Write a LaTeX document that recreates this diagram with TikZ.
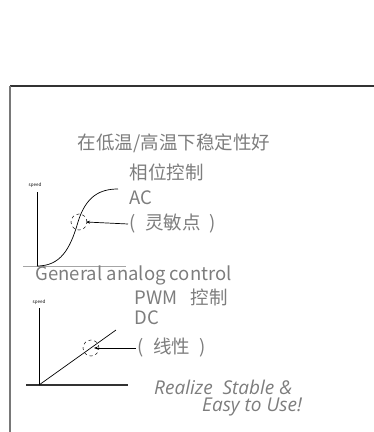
\documentclass[tikz,border=0pt]{standalone}
\usepackage{fontspec}
\setmainfont{Noto Sans CJK SC}
\newfontfamily\slantfont{Open Sans}
\usetikzlibrary{arrows.meta}
\definecolor{textgray}{RGB}{125,125,125}
\definecolor{framegray}{RGB}{120,120,120}
\definecolor{framedark}{RGB}{50,50,50}
\definecolor{axisgray}{RGB}{165,165,165}
\tikzset{
  caption/.style={
    text=textgray,
    font=\fontsize{18.5}{20}\selectfont,
    inner sep=1.5pt,
    anchor=west
  },
  slogan/.style={
    text=textgray,
    font=\slantfont\itshape\fontsize{19}{21}\selectfont,
    inner sep=0pt,
    anchor=west
  },
  axis-label/.style={font=\fontsize{4.5}{5}\selectfont, inner sep=0pt},
  axis/.style={line width=0.8pt, draw=black},
  curve/.style={line width=0.7pt, draw=black},
  spot/.style={circle, dashed, draw=black, line width=0.5pt,
    minimum size=16pt, inner sep=0pt},
  pointer/.style={{Stealth[length=4pt,width=3pt]}-, line width=0.7pt}
}
\newcommand{\gap}{\hspace{0.5em}}

\begin{document}
\begin{tikzpicture}[x=1pt,y=-1pt]
  \useasboundingbox (0,0) rectangle (374,432);
  % --- frame (only top and left edges show) ---
  \draw[framedark, line width=1.4pt] (10,86) -- (374,86);
  \draw[framegray, line width=2pt] (10,86) -- (10,432);

  % --- heading ---
  \node[caption, anchor=center] (heading) at (174,143) {在低温/高温下稳定性好};

  % --- phase control chart (S-curve) ---
  \coordinate (acO) at (37,266);
  \node[axis-label] (acspeed) at (35,185) {speed};
  \draw[axis] (37,192) -- (acO);
  \draw[axisgray, line width=0.7pt] (23,266) -- (126,266);
  \draw[curve] (acO) .. controls (60,266) and (70,250) .. (78,222)
    .. controls (86,196) and (100,189) .. (118,189);
  \node[spot] (acspot) at (79,222) {};

  \node[caption] (acname) at (128,172) {相位控制};
  \node[caption] (actype) at (128,198) {AC};
  \node[caption] (acnote) at (128,224) {(\gap 灵敏点\gap)};
  \draw[pointer] (acspot.center) ++(7,0) -- (acnote.west);

  % --- PWM control chart (straight line) ---
  \node[caption] (general) at (34,275) {General analog control};
  \coordinate (dcO) at (39,385);
  \node[axis-label] (dcspeed) at (39,302) {speed};
  \draw[axis] (39,308) -- (dcO);
  \draw[framedark, line width=1.2pt] (26,385) -- (128,385);
  \draw[curve] (dcO) -- (116,330);
  \node[spot] (dcspot) at (91,348) {};

  \node[caption] (dcname) at (133,297) {PWM\hspace{0.7em}控制};
  \node[caption] (dctype) at (133,318) {DC};
  \node[caption] (dcnote) at (136,348) {(\gap 线性\gap)};
  \draw[pointer] (dcspot.center) ++(3,0) -- (dcnote.west);

  % --- slogan ---
  \node[slogan] (slogan1) at (154,387) {Realize\ \ Stable \&};
  \node[slogan] (slogan2) at (202,407) {Easy to Use!};
\end{tikzpicture}
\end{document}
